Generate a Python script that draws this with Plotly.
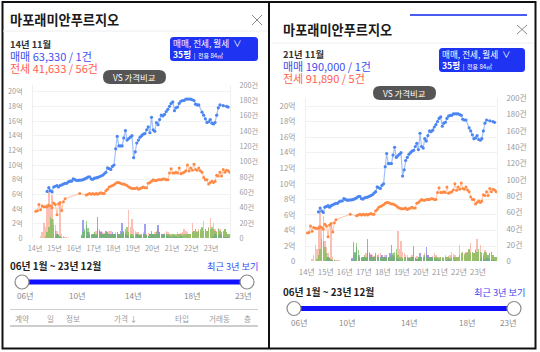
import plotly.graph_objects as go

# ---------------- data ----------------
YEARS = list(range(2014, 2024))
MONTHS = [f"{y}-{m:02d}-15" for y in YEARS for m in range(1, 13)]

# 매매 price (억)
BUY_PRICE = (
    [None] * 7 + [6.4, 6.9, 6.5, 6.33, 7.0]
    + [7.1, 7.2, 7.0, 7.2, 7.3, 7.4, 7.5, 7.5, 7.7, 7.8, 7.8, 8.1]
    + [8.0, 7.9, 7.9, 7.95, 7.95, 8.0, 8.1, 8.2, 8.35, 8.4, 8.1, 8.05]
    + [8.2, 8.25, 8.3, 8.4, 8.5, 8.6, 8.8, 9.0, 9.6, 9.5, 9.4, 9.8]
    + [10.0, 12.2, 13.9, 12.6, 12.6, 12.6, 13.7, 14.7, 13.4, 13.6, 13.8, 14.0]
    + [11.0, 11.8, 13.0, 13.4, 13.8, 14.0, 14.2, 14.3, 14.8, 15.2, 14.4, 16.5]
    + [14.8, 14.6, 15.8, 15.5, 16.2, 16.8, 16.7, 16.9, 17.3, 17.6, 18.0, 18.4]
    + [18.6, 17.4, 17.8, 17.9, 18.4, 18.7, 18.8, 18.8, 19.0, 19.0, 19.0, 19.0]
    + [18.9, 18.8, 18.3, 18.2, 18.2, None, 17.2, 16.8, 16.3, 15.8, 15.9, 16.2]
    + [15.7, 15.6, 15.8, 16.8, 17.8, 18.2, None, 18.1, None, 18.0, 17.9, None]
)
# 전세 price (억)
JEONSE_PRICE = (
    [3.7, 3.75, 4.6, 3.9, 4.4, 4.3, 4.3, 4.3, 4.5, 4.4, 4.16, 4.8]
    + [4.6, 3.2, 4.7, 4.9, 3.8, 5.0, 5.4, None, None, None, None, None]
    + [None, None, None, 6.1, None, None, None, 5.9, 6.0, 6.1, 6.0, 6.1]
    + [6.0, 6.1, 6.0, 6.1, 6.2, 6.1, 6.1, 6.5, 6.7, 7.0, 7.1, 7.2]
    + [7.3, 7.5, 7.6, 7.6, 7.5, 7.4, 7.4, 7.3, 7.2, 7.0, 6.9, 6.8]
    + [6.8, 6.8, 6.9, 6.7, 6.8, 6.9, 7.0, 6.9, 6.9, 7.5, 7.6, 7.8]
    + [8.0, 7.9, 7.9, 8.0, 8.0, 8.0, 8.1, 8.1, 8.0, 8.0, 8.9, 9.5]
    + [8.9, 8.9, 9.0, 8.9, 9.6, 8.8, 8.9, 9.0, 9.2, 10.0, 9.19, 9.6]
    + [9.3, 10.1, 9.4, 9.3, 9.6, 9.2, 9.0, 8.3, 8.0, 8.0, 7.4, 7.6]
    + [7.8, 7.6, 7.8, 8.6, 8.5, 9.0, 8.5, 9.4, 9.0, 9.3, 9.2, 9.0]
)
# transaction counts (건)
JEONSE_CNT = (
    [0, 0, 1, 3, 8, 20, 15, 45, 60, 40, 56, 25]
    + [18, 10, 6, 48, 5, 3, 2, 2, 2, 1, 1, 1]
    + [1, 1, 0, 1, 1, 2, 1, 2, 3, 4, 3, 6]
    + [8, 10, 14, 12, 9, 8, 7, 6, 5, 9, 10, 6]
    + [5, 8, 6, 4, 3, 6, 5, 8, 10, 37, 15, 25]
    + [12, 10, 8, 8, 6, 5, 8, 6, 5, 7, 6, 5]
    + [6, 8, 10, 12, 8, 6, 5, 7, 10, 8, 6, 5]
    + [5, 4, 6, 8, 5, 7, 8, 12, 9, 8, 5, 6]
    + [20, 10, 12, 10, 12, 10, 14, 22, 12, 10, 15, 27]
    + [12, 20, 12, 10, 14, 12, 8, 10, 12, 8, 6, 5]
)
BUY_CNT = (
    [0, 0, 0, 0, 0, 0, 0, 1, 1, 1, 1, 1]
    + [3, 5, 4, 2, 2, 1, 1, 1, 1, 0, 0, 0]
    + [1, 1, 1, 1, 4, 24, 10, 18, 8, 5, 4, 5]
    + [6, 4, 28, 10, 8, 6, 5, 10, 8, 6, 5, 8]
    + [6, 5, 8, 6, 10, 20, 8, 6, 4, 3, 2, 2]
    + [3, 2, 5, 3, 4, 3, 5, 19, 4, 3, 6, 10]
    + [6, 4, 5, 18, 8, 6, 5, 5, 4, 3, 2, 2]
    + [2, 3, 2, 1, 2, 3, 2, 1, 1, 2, 1, 1]
    + [1, 1, 1, 0, 1, 1, 1, 1, 0, 1, 1, 1]
    + [2, 3, 5, 4, 3, 6, 4, 3, 2, 2, 2, 1]
)
WOLSE_CNT = (
    [0, 0, 0, 0, 0, 1, 3, 8, 15, 28, 25, 18]
    + [10, 6, 4, 3, 2, 2, 1, 1, 1, 1, 1, 1]
    + [1, 1, 1, 1, 2, 8, 12, 22, 14, 8, 6, 5]
    + [8, 6, 10, 8, 6, 5, 6, 8, 6, 5, 4, 6]
    + [5, 6, 4, 5, 6, 8, 10, 12, 15, 8, 6, 5]
    + [4, 5, 6, 5, 4, 6, 5, 5, 4, 3, 6, 5]
    + [5, 6, 8, 5, 4, 5, 6, 4, 5, 6, 5, 4]
    + [6, 5, 4, 5, 6, 5, 4, 5, 6, 5, 5, 6]
    + [8, 10, 12, 8, 10, 12, 15, 10, 12, 10, 14, 12]
    + [15, 12, 10, 8, 12, 10, 8, 10, 12, 8, 6, 5]
)

X_TICKS = [f"{y}-01-01" for y in YEARS]
X_TEXT = ["14년", "15년", "16년", "17년", "18년", "19년", "20년", "21년", "22년", "23년"]
PRICE_TICKS = list(range(0, 21, 2))
PRICE_TEXT = ["0"] + [f"{v}억" for v in PRICE_TICKS[1:]]
CNT_TICKS = list(range(0, 201, 20))
CNT_TEXT = ["0"] + [f"{v}건" for v in CNT_TICKS[1:]]
SLIDER_TEXT = ["06년", "10년", "14년", "18년", "23년"]
TABLE_HEAD = ["계약", "일", "정보", "가격 ↓", "타입", "거래동", "층"]

PANELS = [
    dict(month="14년 11월", buy="매매 63,330 / 1건", jeonse="전세 41,633 / 56건"),
    dict(month="21년 11월", buy="매매 190,000 / 1건", jeonse="전세 91,890 / 5건"),
]

# ---------------- layout helpers ----------------
W, H = 540, 352
FONT = "Noto Sans CJK KR"
BLUE_TXT = "#3f4ff0"
RED_TXT = "#ff5e4d"


def X(px):
    return px / W


def Y(py):
    return 1 - py / H


shapes = []
annotations = []


def text(px, py, s, size, color="#222", anchor="left", weight="normal", yanchor="middle",
         align="left"):
    annotations.append(dict(
        x=X(px), y=Y(py), xref="paper", yref="paper", text=s, showarrow=False,
        xanchor=anchor, yanchor=yanchor, align=align, borderpad=0, borderwidth=0,
        font=dict(family=FONT, size=size, color=color, weight=weight)))


def line(x0, y0, x1, y1, color, width=1):
    shapes.append(dict(type="line", xref="paper", yref="paper",
                       x0=X(x0), y0=Y(y0), x1=X(x1), y1=Y(y1),
                       line=dict(color=color, width=width)))


def rrect(x0, y0, x1, y1, r, fill):
    pts = [
        ("M", [(x0 + r, y0)]), ("L", [(x1 - r, y0)]), ("Q", [(x1, y0), (x1, y0 + r)]),
        ("L", [(x1, y1 - r)]), ("Q", [(x1, y1), (x1 - r, y1)]), ("L", [(x0 + r, y1)]),
        ("Q", [(x0, y1), (x0, y1 - r)]), ("L", [(x0, y0 + r)]), ("Q", [(x0, y0), (x0 + r, y0)]),
    ]
    path = " ".join(c + " " + " ".join(f"{X(a):.5f},{Y(b):.5f}" for a, b in p) for c, p in pts) + " Z"
    shapes.append(dict(type="path", xref="paper", yref="paper", path=path,
                       fillcolor=fill, line=dict(width=0)))


def circle(cx, cy, r):
    shapes.append(dict(type="circle", xref="paper", yref="paper",
                       x0=X(cx - r), x1=X(cx + r), y0=Y(cy + r), y1=Y(cy - r),
                       fillcolor="white", line=dict(color="#8a8a8a", width=1.2)))


# ---------------- figure ----------------
fig = go.Figure()

charts = [
    dict(xa="x", ya="y", pa="y2", xd=(33, 230), y0=238.3, c200=85.0, p20=91.7,
         rng=["2013-11-24", "2023-12-19"], fs=7.2, xstand=4),
    dict(xa="x2", ya="y3", pa="y4", xd=(306, 497), y0=261.7, c200=98.3, p20=106.0,
         rng=["2013-12-18", "2024-01-01"], fs=7.8, xstand=4),
]

for c in charts:
    for name, vals, color in [("전세", JEONSE_CNT, "rgba(248,150,130,0.6)"),
                              ("매매", BUY_CNT, "rgba(120,120,240,0.7)"),
                              ("월세", WOLSE_CNT, "rgba(100,190,70,0.65)")]:
        fig.add_trace(go.Bar(x=MONTHS, y=vals, xaxis=c["xa"], yaxis=c["ya"],
                             marker=dict(color=color, line=dict(width=0)),
                             width=27 * 86400000, showlegend=False, name=name))
    fig.add_trace(go.Scatter(x=MONTHS, y=JEONSE_PRICE, xaxis=c["xa"], yaxis=c["pa"],
                             mode="lines+markers", connectgaps=True,
                             line=dict(color="rgba(255,140,80,0.5)", width=1),
                             marker=dict(color="#ff8a45", size=3), showlegend=False))
    fig.add_trace(go.Scatter(x=MONTHS, y=BUY_PRICE, xaxis=c["xa"], yaxis=c["pa"],
                             mode="lines+markers", connectgaps=True,
                             line=dict(color="rgba(90,140,245,0.55)", width=1.2),
                             marker=dict(color="#4b86f2", size=3.2), showlegend=False))

layout_axes = {}
for i, c in enumerate(charts):
    h_cnt = c["y0"] - c["c200"]
    h_pr = c["y0"] - c["p20"]
    price_top = 20 * h_cnt / h_pr
    dom = [Y(c["y0"]), Y(c["c200"])]
    xname = "xaxis" if i == 0 else "xaxis2"
    cname = "yaxis" if i == 0 else "yaxis3"
    pname = "yaxis2" if i == 0 else "yaxis4"
    tf = dict(family=FONT, size=c["fs"], color="#9a9a9a")
    layout_axes[xname] = dict(
        domain=[X(c["xd"][0]), X(c["xd"][1])], type="date", range=c["rng"],
        tickvals=X_TICKS, ticktext=X_TEXT, showgrid=False, zeroline=False,
        showline=False, ticks="", tickfont=tf, anchor=c["ya"], automargin=False,
        ticklabelstandoff=c["xstand"], fixedrange=True)
    layout_axes[cname] = dict(
        domain=dom, range=[0, 200], side="right", anchor=c["xa"], automargin=False,
        tickvals=CNT_TICKS, ticktext=CNT_TEXT, showgrid=False, zeroline=False,
        showline=True, linecolor="#efefef", ticks="", tickfont=tf, ticklabelstandoff=7)
    layout_axes[pname] = dict(
        overlaying=c["ya"], range=[0, price_top], side="left", anchor=c["xa"],
        automargin=False,
        tickvals=PRICE_TICKS, ticktext=PRICE_TEXT, showgrid=True, gridcolor="#f2f2f2",
        zeroline=False, showline=True, linecolor="#efefef", ticks="", tickfont=tf,
        ticklabelstandoff=8)

# ---------------- decorations ----------------
shapes.append(dict(type="rect", xref="paper", yref="paper", x0=X(2.5), x1=X(535.5),
                   y0=Y(348.5), y1=Y(2), line=dict(color="#111", width=2)))
line(269, 2, 269, 348.5, "#111", 2)

P = [
    dict(l=10, r=258, title_y=20, sep_y=31, sep=(3, 268), xc=(252, 262, 15, 25),
         month_y=43, box=(170, 37, 258, 61), pill=(103, 70, 166, 84),
         range_y=266, track_y=282, track=(22, 247), lab_y=294.5, lab_x=[25, 77, 133, 192, 243]),
    dict(l=283, r=525, title_y=30, sep_y=43, sep=(272, 533), xc=(517, 527, 25, 34),
         month_y=53.5, box=(439, 48, 525, 72), pill=(373, 86, 436, 100),
         range_y=292, track_y=308.5, track=(294, 514), lab_y=321.5, lab_x=[299, 347, 409, 467, 509]),
]

line(410, 15, 527, 15, "#4a5cf0", 2)  # tab indicator of right panel

for p, info in zip(P, PANELS):
    text(p["l"], p["title_y"], "마포래미안푸르지오", 13.2, "#1a1a1a", weight="bold")
    x0, x1, y0, y1 = p["xc"]
    line(x0, y0, x1, y1, "#8a8a8a", 1)
    line(x0, y1, x1, y0, "#8a8a8a", 1)
    line(p["sep"][0], p["sep_y"], p["sep"][1], p["sep_y"], "#eeeeee", 1)
    header = (f"<span style='font-size:9.3px;font-weight:bold;color:#333'>{info['month']}</span><br>"
              f"<span style='font-size:11px;color:{BLUE_TXT}'>{info['buy']}</span><br>"
              f"<span style='font-size:11px;color:{RED_TXT}'>{info['jeonse']}</span>")
    text(p["l"], p["month_y"] - 6.5, header, 9.8, "#333", yanchor="top")
    bx0, by0, bx1, by1 = p["box"]
    rrect(bx0, by0, bx1, by1, 3.5, "#1f33f2")
    box_txt = ("매매, 전세, 월세  ∨<br>"
               "<b>35평</b><span style='font-size:6px'>  |  전용 84㎡</span>")
    text(bx0 + 3, (by0 + by1) / 2, box_txt, 8.6, "white", anchor="left")
    qx0, qy0, qx1, qy1 = p["pill"]
    rrect(qx0, qy0, qx1, qy1, 7, "#555555")
    text((qx0 + qx1) / 2, (qy0 + qy1) / 2, "VS 가격비교", 8.4, "white", anchor="center")
    text(p["l"], p["range_y"], "06년 1월 ~ 23년 12월", 9.8, "#222", weight="bold")
    text(p["r"], p["range_y"], "최근 3년 보기", 9.2, "#3a4af0", anchor="right")
    t0, t1 = p["track"]
    line(t0, p["track_y"], t1, p["track_y"], "#1010ff", 5)
    circle(t0, p["track_y"], 7)
    circle(t1, p["track_y"], 7)
    for lx, s in zip(p["lab_x"], SLIDER_TEXT):
        text(lx, p["lab_y"], s, 8.2, "#8a8a8a", anchor="center")

line(10, 309.5, 258, 309.5, "#d0d0d0", 1)
for tx, s in zip([22, 50, 73, 125, 182, 219, 247], TABLE_HEAD):
    text(tx, 318, s, 7.6, "#9a9a9a", anchor="center")
line(10, 326, 258, 326, "#bdbdbd", 1.5)

fig.update_layout(
    width=W, height=H, margin=dict(l=0, r=0, t=0, b=0, pad=0, autoexpand=False),
    paper_bgcolor="white", plot_bgcolor="white",
    barmode="overlay", bargap=0, showlegend=False,
    font=dict(family=FONT),
    shapes=shapes, annotations=annotations,
    **layout_axes,
)

fig.write_html("out.html")
